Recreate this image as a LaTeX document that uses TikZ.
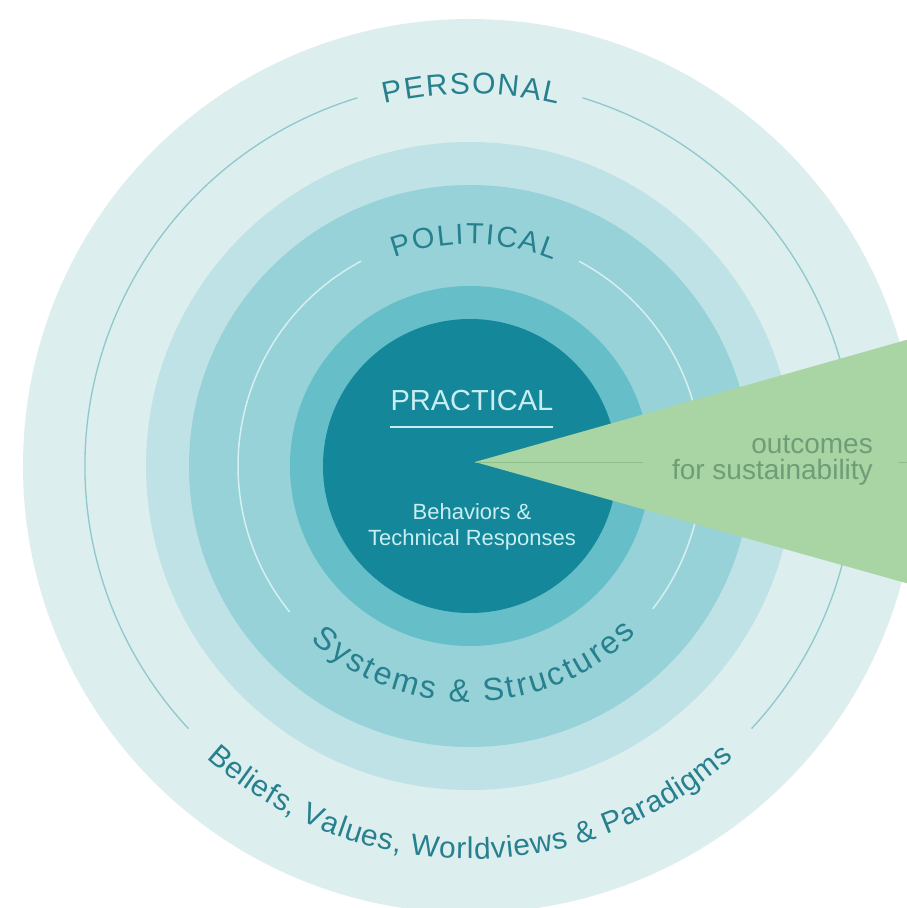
\documentclass[tikz,border=0pt]{standalone}
\usepackage{fontspec}
\setmainfont{Liberation Sans}
\usetikzlibrary{decorations.text}
\definecolor{ringA}{HTML}{DDEEEF}
\definecolor{ringB}{HTML}{BFE2E7}
\definecolor{ringC}{HTML}{97D2D8}
\definecolor{ringD}{HTML}{66BEC8}
\definecolor{core}{HTML}{14889A}
\definecolor{wedgegreen}{HTML}{A9D4A3}
\definecolor{wedgeline}{HTML}{8DBE8B}
\definecolor{tealtext}{HTML}{26808E}
\definecolor{lighttext}{HTML}{C8EEF2}
\definecolor{outtext}{HTML}{6E9D78}
\definecolor{outerarc}{HTML}{8FC8CC}
\definecolor{innerarc}{HTML}{D6EFF1}
\tikzset{
  outerline/.style={draw=outerarc, line width=1.3pt},
  innerline/.style={draw=innerarc, line width=1.5pt},
  arctext/.style={decorate, decoration={text along path, text align={fit to path}, text={#1}}},
}
\begin{document}
\begin{tikzpicture}[x=1pt,y=1pt]
\useasboundingbox (-470,-442) rectangle (437,466);
\fill[white] (-470,-442) rectangle (437,466);
\begin{scope}
\clip (-470,-442) rectangle (437,466);
\fill[ringA] (0,0) circle (447);
\fill[ringB] (0,0) circle (324);
\fill[ringC] (0,0) circle (281);
\fill[ringD] (0,0) circle (180);
\fill[core] (0,0) circle (147);
% thin guide arcs
\draw[outerline] (73:385) arc[start angle=73, end angle=-43, radius=385];
\draw[outerline] (107:385) arc[start angle=107, end angle=223, radius=385];
\draw[innerline] (62:232) arc[start angle=62, end angle=-38, radius=232];
\draw[innerline] (118:232) arc[start angle=118, end angle=219, radius=232];
% wedge
\coordinate (tip) at (5,4);
\coordinate (wtop) at (500,144);
\coordinate (wbot) at (500,-135);
\fill[wedgegreen] (tip) -- (wtop) -- (wbot) -- cycle;
\coordinate (lineA) at (173,4);
\coordinate (lineB) at (428,4);
\coordinate (lineC) at (440,4);
\draw[wedgeline, line width=1pt] (tip) -- (lineA);
\draw[wedgeline, line width=1pt] (lineB) -- (lineC);
\end{scope}
% centre texts
\node[anchor=base, text=lighttext, font=\fontsize{29}{29}\selectfont, inner sep=0] (practical) at (2,56) {PRACTICAL};
\coordinate (ulA) at (-80,39);
\coordinate (ulB) at (83,39);
\draw[lighttext, line width=2pt] (ulA) -- (ulB);
\node[anchor=base, text=lighttext, font=\fontsize{22}{22}\selectfont, inner sep=0] (beh1) at (2,-53) {Behaviors \&};
\node[anchor=base, text=lighttext, font=\fontsize{22}{22}\selectfont, inner sep=0] (beh2) at (2,-79) {Technical Responses};
\node[anchor=base east, text=outtext, font=\fontsize{28}{28}\selectfont, inner sep=0] (out1) at (403,13) {outcomes};
\node[anchor=base east, text=outtext, font=\fontsize{28}{28}\selectfont, inner sep=0] (out2) at (403,-13) {for sustainability};
% curved labels
\path[arctext={|\fontsize{30}{30}\selectfont\color{tealtext}|PERSONAL}]
  (103.3:372) arc[start angle=103.3, end angle=76.4, radius=372];
\path[arctext={|\fontsize{29}{29}\selectfont\color{tealtext}|POLITICAL}]
  (110:222) arc[start angle=110, end angle=68, radius=222];
\path[arctext={|\fontsize{32}{32}\selectfont\color{tealtext}|Systems {\&} Structures}]
  (227.5:236) arc[start angle=227.5, end angle=314.7, radius=236];
\path[arctext={|\fontsize{30}{30}\selectfont\color{tealtext}|Beliefs, Values, Worldviews {\&} Paradigms}]
  (228:393) arc[start angle=228, end angle=312, radius=393];
\end{tikzpicture}
\end{document}
